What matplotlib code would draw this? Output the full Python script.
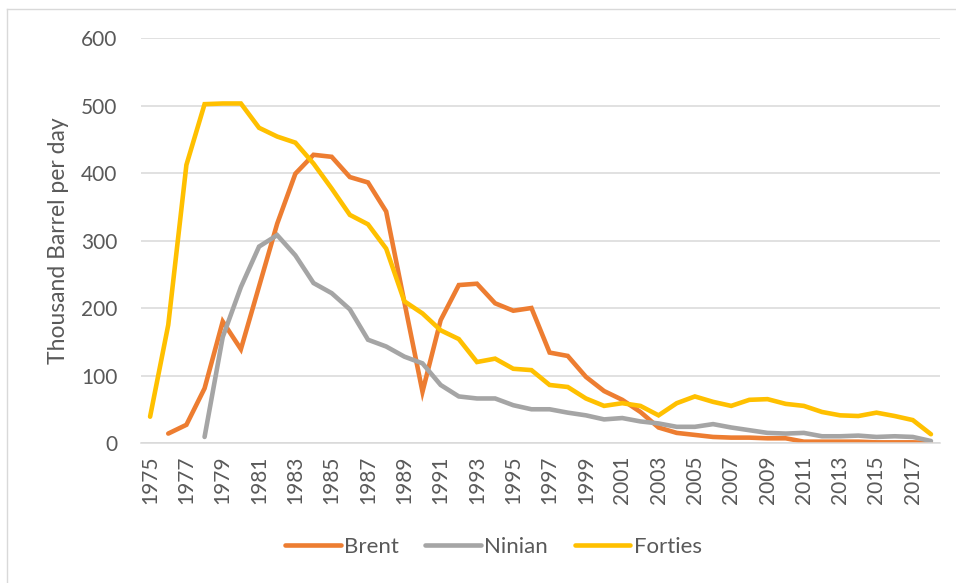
import matplotlib.pyplot as plt
from matplotlib.lines import Line2D

plt.rcParams['font.family'] = ['Lato', 'DejaVu Sans']

years = list(range(1975, 2019))

brent = [None, 14, 27, 81, 180, 139, 232, 325, 399, 427, 424, 394, 386, 343,
         209, 76, 182, 234, 236, 207, 196, 200, 134, 129, 98, 77, 64, 46, 23,
         15, 12, 9, 8, 8, 7, 7, 2, 2, 2, 2, 1, 1, 1, 0]
ninian = [None, None, None, 9, 157, 231, 291, 308, 278, 237, 222, 198, 153,
          143, 128, 118, 86, 69, 66, 66, 56, 50, 50, 45, 41, 35, 37, 32, 29,
          24, 24, 28, 23, 19, 15, 14, 15, 10, 10, 11, 9, 10, 9, 3]
forties = [39, 175, 412, 502, 503, 503, 467, 454, 445, 414, 377, 338, 324,
           288, 210, 192, 167, 154, 120, 125, 110, 108, 86, 83, 66, 55, 59,
           55, 41, 59, 69, 61, 55, 64, 65, 58, 55, 46, 41, 40, 45, 40, 34, 13]

series = [("Brent", brent, "#ED7D31"),
          ("Ninian", ninian, "#A5A5A5"),
          ("Forties", forties, "#FFC000")]

fig = plt.figure(figsize=(9.56, 5.83), dpi=100)
ax = fig.add_axes([0.1475, 0.2401, 0.8358, 0.6947])

xs = list(range(len(years)))
for name, vals, color in series:
    px = [x for x, v in zip(xs, vals) if v is not None]
    py = [v for v in vals if v is not None]
    ax.plot(px, py, color=color, linewidth=3.3, label=name,
            solid_joinstyle="miter", solid_capstyle="round")

ax.set_xlim(-0.5, len(years) - 0.5)
ax.set_ylim(0, 600)
ax.set_yticks(range(0, 601, 100))
ax.set_xticks(xs[::2])
ax.set_xticklabels([str(y) for y in years[::2]], rotation=90)
ax.grid(axis="y", color="#D9D9D9", linewidth=1.1)
ax.set_axisbelow(True)
for s in ["top", "right", "left"]:
    ax.spines[s].set_visible(False)
ax.spines["bottom"].set_color("#D9D9D9")
ax.spines["bottom"].set_linewidth(1.1)
ax.tick_params(length=0, labelsize=15, labelcolor="#595959")
ax.tick_params(axis="y", pad=17)
ax.tick_params(axis="x", pad=9)
ax.set_ylabel("Thousand Barrel per day", fontsize=16.5, color="#595959",
              labelpad=9)

fig.legend(loc="center", bbox_to_anchor=(0.516, 0.062), ncol=3,
           frameon=False, fontsize=16, handlelength=2.5, handletextpad=0.15,
           columnspacing=1.2, labelcolor="#595959")

# chart frame
fig.add_artist(Line2D([7 / 956, 7 / 956], [0, 1 - 9 / 583],
                      transform=fig.transFigure, color="#D9D9D9", lw=1))
fig.add_artist(Line2D([7 / 956, 1], [1 - 9 / 583, 1 - 9 / 583],
                      transform=fig.transFigure, color="#D9D9D9", lw=1))

fig.savefig("out.png", dpi=100)
